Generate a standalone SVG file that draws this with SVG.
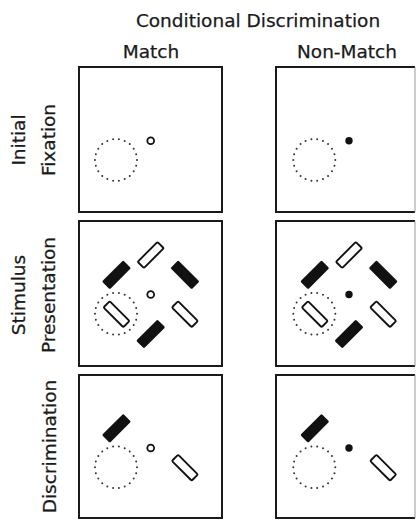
<svg xmlns="http://www.w3.org/2000/svg" xmlns:xlink="http://www.w3.org/1999/xlink" width="417" height="520" viewBox="0 0 417 520">
  <style>
    .lbl { font-family: "DejaVu Sans", "Liberation Sans", sans-serif; font-size: 18.5px; fill: #1a1a1a; stroke: #1a1a1a; stroke-width: 0.25; }
    .panel { fill: #fff; stroke: #1a1a1a; stroke-width: 2; }
    .edge { stroke: #999; stroke-width: 1; }
    .dots { fill: none; stroke: #333; stroke-width: 2; stroke-linecap: round; stroke-dasharray: 0 4.545; }
    .fixo { fill: none; stroke: #111; stroke-width: 1.8; }
    .fixf { fill: #111; }
    .ro { fill: #fff; stroke: #111; stroke-width: 1.9; }
    .rf { fill: #111; }
  </style>
  <defs>
    <rect id="openBar" class="ro" x="-14" y="-4.4" width="28" height="8.8" rx="1.3"/>
    <rect id="fillBar" class="rf" x="-15" y="-5.5" width="30" height="11" rx="1.3"/>
    <circle id="zone" class="dots" r="21" pathLength="100"/>
  </defs>

  <rect width="417" height="520" fill="#fff"/>

  <g id="headers">
    <text class="lbl" x="258" y="27" text-anchor="middle">Conditional Discrimination</text>
    <text class="lbl" x="151" y="58" text-anchor="middle">Match</text>
    <text class="lbl" x="347" y="58" text-anchor="middle">Non-Match</text>
  </g>

  <g id="row-labels">
    <text class="lbl" text-anchor="middle" transform="translate(25,140) rotate(-90)">Initial</text>
    <text class="lbl" text-anchor="middle" transform="translate(55,140) rotate(-90)">Fixation</text>
    <text class="lbl" text-anchor="middle" transform="translate(25,295) rotate(-90)">Stimulus</text>
    <text class="lbl" text-anchor="middle" transform="translate(55,295) rotate(-90)">Presentation</text>
    <text class="lbl" text-anchor="middle" transform="translate(56,446.5) rotate(-90)">Discrimination</text>
  </g>

  <!-- Row 1: Initial Fixation -->
  <g id="match-fixation">
    <rect class="panel" x="79" y="67" width="143" height="145"/>
    <g transform="translate(150.7,140.7)">
      <use xlink:href="#zone" href="#zone" x="-34.7" y="19.3"/>
      <circle class="fixo" r="3.4"/>
    </g>
  </g>
  <g id="nonmatch-fixation">
    <path class="panel" d="M415,67 H276 V212 H415"/>
    <line class="edge" x1="415" y1="67" x2="415" y2="212"/>
    <g transform="translate(349,140.7)">
      <use xlink:href="#zone" href="#zone" x="-34.7" y="19.3"/>
      <circle class="fixf" r="3.7"/>
    </g>
  </g>

  <!-- Row 2: Stimulus Presentation -->
  <g id="match-presentation">
    <rect class="panel" x="79" y="221" width="143" height="145"/>
    <g transform="translate(150.7,294.5)">
      <use xlink:href="#zone" href="#zone" x="-34.7" y="19.3"/>
      <circle class="fixo" r="3.4"/>
      <use xlink:href="#openBar" href="#openBar" transform="translate(0,-39.5) rotate(-45)"/>
      <use xlink:href="#fillBar" href="#fillBar" transform="translate(-34.2,-19.7) rotate(-45)"/>
      <use xlink:href="#fillBar" href="#fillBar" transform="translate(34.2,-19.7) rotate(45)"/>
      <use xlink:href="#openBar" href="#openBar" transform="translate(-34.2,19.7) rotate(45)"/>
      <use xlink:href="#openBar" href="#openBar" transform="translate(34.2,19.7) rotate(45)"/>
      <use xlink:href="#fillBar" href="#fillBar" transform="translate(0,39.5) rotate(-45)"/>
    </g>
  </g>
  <g id="nonmatch-presentation">
    <path class="panel" d="M415,221 H276 V366 H415"/>
    <line class="edge" x1="415" y1="221" x2="415" y2="366"/>
    <g transform="translate(349,294.5)">
      <use xlink:href="#zone" href="#zone" x="-34.7" y="19.3"/>
      <circle class="fixf" r="3.7"/>
      <use xlink:href="#openBar" href="#openBar" transform="translate(0,-39.5) rotate(-45)"/>
      <use xlink:href="#fillBar" href="#fillBar" transform="translate(-34.2,-19.7) rotate(-45)"/>
      <use xlink:href="#fillBar" href="#fillBar" transform="translate(34.2,-19.7) rotate(45)"/>
      <use xlink:href="#openBar" href="#openBar" transform="translate(-34.2,19.7) rotate(45)"/>
      <use xlink:href="#openBar" href="#openBar" transform="translate(34.2,19.7) rotate(45)"/>
      <use xlink:href="#fillBar" href="#fillBar" transform="translate(0,39.5) rotate(-45)"/>
    </g>
  </g>

  <!-- Row 3: Discrimination -->
  <g id="match-discrimination">
    <rect class="panel" x="79" y="375" width="143" height="143"/>
    <g transform="translate(150.7,448)">
      <use xlink:href="#zone" href="#zone" x="-34.7" y="19.3"/>
      <circle class="fixo" r="3.4"/>
      <use xlink:href="#fillBar" href="#fillBar" transform="translate(-34.2,-19.7) rotate(-45)"/>
      <use xlink:href="#openBar" href="#openBar" transform="translate(34.2,19.7) rotate(45)"/>
    </g>
  </g>
  <g id="nonmatch-discrimination">
    <path class="panel" d="M415,375 H276 V518 H415"/>
    <line class="edge" x1="415" y1="375" x2="415" y2="518"/>
    <g transform="translate(349,448)">
      <use xlink:href="#zone" href="#zone" x="-34.7" y="19.3"/>
      <circle class="fixf" r="3.7"/>
      <use xlink:href="#fillBar" href="#fillBar" transform="translate(-34.2,-19.7) rotate(-45)"/>
      <use xlink:href="#openBar" href="#openBar" transform="translate(34.2,19.7) rotate(45)"/>
    </g>
  </g>
</svg>
